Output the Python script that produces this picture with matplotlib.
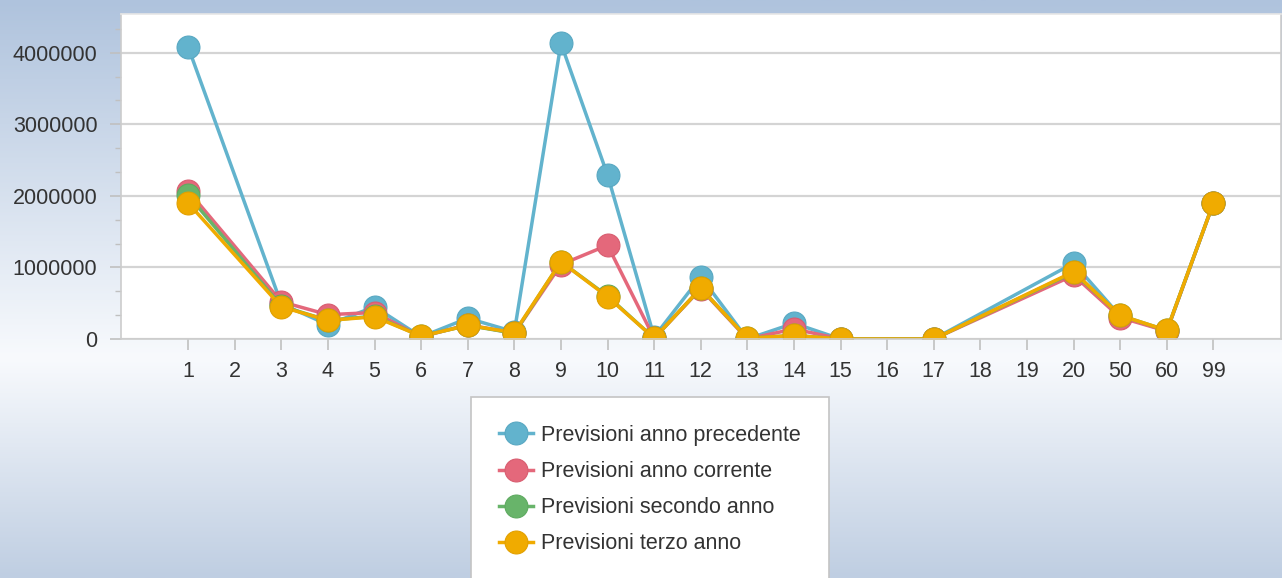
import numpy as np
import matplotlib
matplotlib.use("Agg")
import matplotlib.pyplot as plt
from matplotlib.pyplot import MultipleLocator
from matplotlib.colors import LinearSegmentedColormap

nan = np.nan

categories = ['1', '2', '3', '4', '5', '6', '7', '8', '9', '10', '11', '12',
              '13', '14', '15', '16', '17', '18', '19', '20', '50', '60', '99']

anno_precedente = [4.08e6, nan, 0.49e6, 0.20e6, 0.45e6, 0.03e6, 0.29e6, 0.10e6,
                   4.13e6, 2.29e6, 0.03e6, 0.87e6, 0.0, 0.22e6, 0.0, nan,
                   0.0, nan, nan, 1.06e6, 0.32e6, 0.11e6, 1.90e6]
anno_corrente = [2.07e6, nan, 0.52e6, 0.34e6, 0.37e6, 0.03e6, 0.20e6, 0.08e6,
                 1.04e6, 1.31e6, 0.01e6, 0.70e6, 0.0, 0.14e6, 0.0, nan,
                 0.0, nan, nan, 0.89e6, 0.30e6, 0.11e6, 1.90e6]
secondo_anno = [2.01e6, nan, 0.46e6, 0.26e6, 0.32e6, 0.04e6, 0.19e6, 0.08e6,
                1.08e6, 0.60e6, 0.01e6, 0.71e6, 0.01e6, 0.05e6, 0.0, nan,
                0.0, nan, nan, 0.93e6, 0.33e6, 0.12e6, 1.90e6]
terzo_anno = [1.90e6, nan, 0.45e6, 0.26e6, 0.31e6, 0.04e6, 0.19e6, 0.09e6,
              1.08e6, 0.59e6, 0.01e6, 0.71e6, 0.01e6, 0.05e6, 0.0, nan,
              0.0, nan, nan, 0.94e6, 0.33e6, 0.12e6, 1.90e6]

series = [
    ("Previsioni anno precedente", anno_precedente, '#62b3cd', '#58a8c2'),
    ("Previsioni anno corrente", anno_corrente, '#e4687b', '#d85d70'),
    ("Previsioni secondo anno", secondo_anno, '#68b46a', '#5eaa60'),
    ("Previsioni terzo anno", terzo_anno, '#f0ab00', '#e2a000'),
]

plt.rcParams['font.family'] = ['Liberation Sans', 'DejaVu Sans']
text_color = '#333333'
font_size = 15.5

fig = plt.figure(figsize=(12.82, 5.78), dpi=100)

# background: blue at the top, almost white behind the axis labels, blue again at the bottom
bg = fig.add_axes([0, 0, 1, 1])
cmap = LinearSegmentedColormap.from_list(
    "bg", [(0.0, '#afc3dd'), (0.62, '#f8fafd'), (1.0, '#bfcee2')])
grad = np.linspace(0, 1, 256).reshape(-1, 1)
bg.imshow(grad, cmap=cmap, aspect='auto', extent=[0, 1, 0, 1])
bg.axis('off')

ax = fig.add_axes([121 / 1282, 1 - 339 / 578, 1160 / 1282, 325 / 578])
ax.set_facecolor('white')

x = np.arange(len(categories))
for label, values, color, edge in series:
    y = np.array(values, dtype=float)
    ok = ~np.isnan(y)
    ax.plot(x[ok], y[ok], color=color, linewidth=2.5, marker='o',
            markersize=16.5, markerfacecolor=color, markeredgecolor=edge,
            markeredgewidth=0.8, label=label)

ax.set_xlim(-1.44, 23.45)
ax.set_ylim(0, 4.54e6)
ax.set_xticks(x)
ax.set_xticklabels(categories)
ax.yaxis.set_major_locator(MultipleLocator(1000000))
ax.yaxis.set_minor_locator(MultipleLocator(1000000 / 3))
ax.yaxis.set_major_formatter(plt.FuncFormatter(lambda v, p: '%d' % v))

ax.tick_params(axis='both', which='both', colors='#c0c0c0',
               labelcolor=text_color, labelsize=font_size)
ax.tick_params(axis='y', which='major', length=8, width=1.2, pad=9)
ax.tick_params(axis='y', which='minor', length=4, width=1.0)
ax.tick_params(axis='x', length=8, width=1.2, pad=8)

ax.set_axisbelow(True)
ax.yaxis.grid(True, which='major', color='#d4d4d4', linewidth=1.6)
for side in ['left', 'bottom', 'right', 'top']:
    ax.spines[side].set_color('#cccccc')
    ax.spines[side].set_linewidth(1.2)
ax.spines['top'].set_color('#e6e6e6')

handles, labels = ax.get_legend_handles_labels()
leg = fig.legend(handles, labels, loc='upper left',
                 bbox_to_anchor=(471 / 1282, 1 - 397 / 578),
                 fontsize=font_size, frameon=True, fancybox=False,
                 borderaxespad=0, borderpad=1.3, labelspacing=0.7,
                 handlelength=1.6, handletextpad=0.35)
leg.get_frame().set_edgecolor('#c4c4c4')
leg.get_frame().set_facecolor('white')
leg.get_frame().set_alpha(1)
leg.get_frame().set_linewidth(1.2)
for t in leg.get_texts():
    t.set_color(text_color)

plt.savefig("out.png", dpi=100)
